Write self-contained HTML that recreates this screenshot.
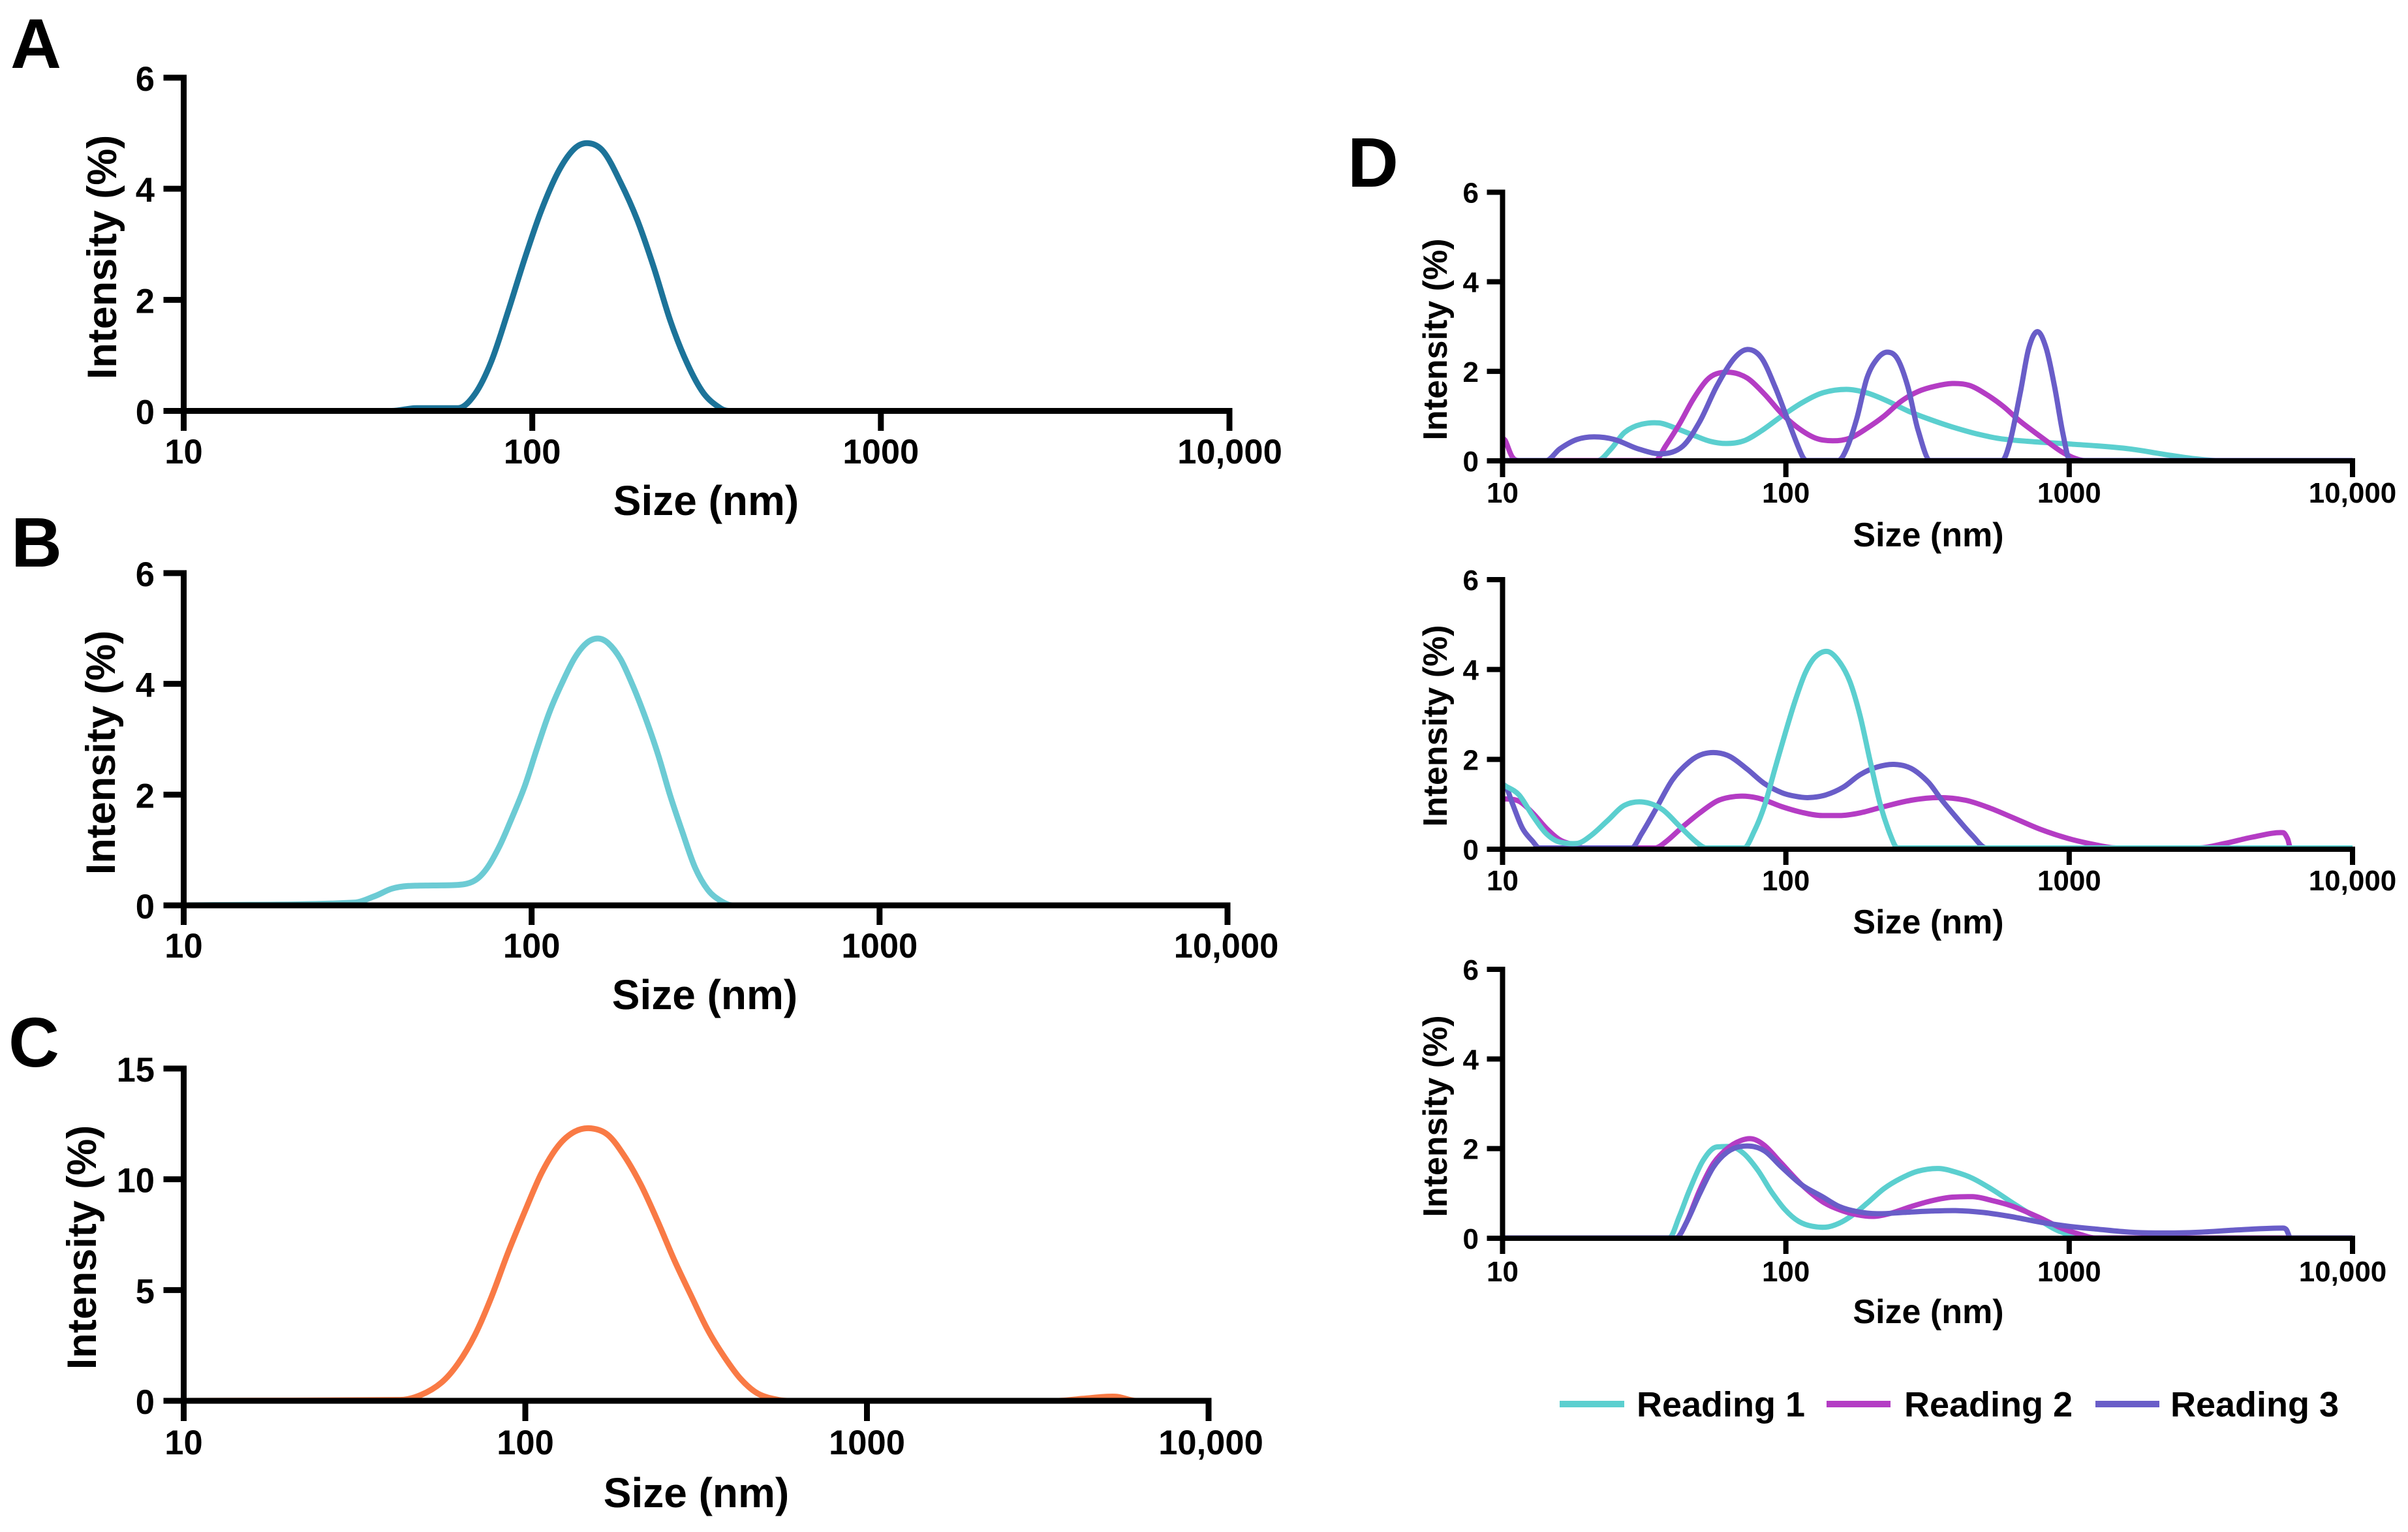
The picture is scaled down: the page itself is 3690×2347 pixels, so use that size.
<!DOCTYPE html>
<html lang="en">
<head>
<meta charset="utf-8">
<title>Size distribution intensity charts</title>
<style>
html,body{margin:0;padding:0;background:#fff;}
svg{display:block;font-family:"Liberation Sans",Arial,sans-serif;font-weight:bold;fill:#000;}
.big-label{font-size:64px;}
.big-y-label{font-size:63px;}
.d-x-label{font-size:52px;}
.d-y-label{font-size:52px;}
.panel-letter{font-size:108px;}
.legend-text{font-size:54px;}
</style>
</head>
<body>
<svg id="figure" xmlns="http://www.w3.org/2000/svg" width="3690" height="2347" viewBox="0 0 3690 2347">
  <rect x="0" y="0" width="3690" height="2347" fill="#ffffff"/>
  <text class="panel-letter" x="16" y="104">A</text>
  <text class="panel-letter" x="17" y="868">B</text>
  <text class="panel-letter" x="13" y="1634">C</text>
  <text class="panel-letter" x="2065" y="286">D</text>

  <g id="panel-a"></g>
  <g id="panel-b"></g>
  <g id="panel-c"></g>
  <g id="panel-d1"></g>
  <g id="panel-d2"></g>
  <g id="panel-d3"></g>

  <text class="big-label" x="1082" y="789" text-anchor="middle">Size (nm)</text>
  <text class="big-label" x="1080" y="1546" text-anchor="middle">Size (nm)</text>
  <text class="big-label" x="1067" y="2309" text-anchor="middle">Size (nm)</text>
  <text class="d-x-label" x="2955" y="837" text-anchor="middle">Size (nm)</text>
  <text class="d-x-label" x="2955" y="1430" text-anchor="middle">Size (nm)</text>
  <text class="d-x-label" x="2955" y="2027" text-anchor="middle">Size (nm)</text>

  <text class="big-y-label" text-anchor="middle" transform="translate(178 394) rotate(-90)">Intensity (%)</text>
  <text class="big-y-label" text-anchor="middle" transform="translate(176 1153) rotate(-90)">Intensity (%)</text>
  <text class="big-y-label" text-anchor="middle" transform="translate(147 1911) rotate(-90)">Intensity (%)</text>
  <text class="d-y-label" text-anchor="middle" transform="translate(2217 520) rotate(-90)">Intensity (%)</text>
  <text class="d-y-label" text-anchor="middle" transform="translate(2217 1112) rotate(-90)">Intensity (%)</text>
  <text class="d-y-label" text-anchor="middle" transform="translate(2217 1710) rotate(-90)">Intensity (%)</text>

  <g>
    <g>
      <rect x="2390" y="2146" width="99" height="10" fill="#5bcfcf"/>
      <text class="legend-text" x="2508" y="2170">Reading 1</text>
    </g>
    <g>
      <rect x="2799" y="2146" width="98" height="10" fill="#b43cc4"/>
      <text class="legend-text" x="2918" y="2170">Reading 2</text>
    </g>
    <g>
      <rect x="3211" y="2146" width="98" height="10" fill="#695dc8"/>
      <text class="legend-text" x="3326" y="2170">Reading 3</text>
    </g>
  </g>
</svg>
<script>
/* ---- tick labels ---- */
const xTickLabels = ["10", "100", "1000", "10,000"];
const xTickLogs = [1, 2, 3, 4];
const yTicksSmall = [0, 2, 4, 6];
const yTicksLarge = [0, 5, 10, 15];

/* ---- Panel A: size (nm) / intensity (%) ---- */
const aSizes = [10, 39.5, 46.6, 61.3, 68.4, 76.4, 85.3, 95.2, 106, 118.6, 132, 145, 160, 179, 200, 223, 249, 278, 310, 346, 366, 10000];
const aValues = [0, 0, 0.05, 0.05, 0.3, 0.9, 1.8, 2.75, 3.6, 4.3, 4.72, 4.82, 4.67, 4.12, 3.44, 2.59, 1.62, 0.86, 0.32, 0.05, 0, 0];

/* ---- Panel B ---- */
const bSizes = [10, 30.9, 35.5, 39.6, 44.2, 52.1, 61.5, 68.7, 74.6, 81, 87.9, 95.5, 103.7, 112.7, 122.4, 133, 144, 155, 165.6, 180, 195, 212, 231, 250, 272, 295, 321, 348, 378, 10000];
const bValues = [0, 0.05, 0.17, 0.3, 0.35, 0.36, 0.37, 0.45, 0.68, 1.08, 1.59, 2.15, 2.84, 3.5, 4.02, 4.47, 4.74, 4.82, 4.74, 4.45, 3.98, 3.4, 2.72, 1.99, 1.3, 0.68, 0.28, 0.09, 0, 0];

/* ---- Panel C ---- */
const cSizes = [10, 43, 49.4, 56.9, 63.6, 71.2, 79.6, 89, 99.6, 111.4, 124.7, 139.4, 156, 174.6, 195, 218, 244, 273, 305.6, 342, 383, 428, 479, 551, 599, 3604, 4266, 5334, 6138, 10000];
const cValues = [0, 0.04, 0.26, 0.83, 1.69, 2.97, 4.69, 6.69, 8.54, 10.26, 11.5, 12.15, 12.3, 12.0, 11.05, 9.75, 8.11, 6.35, 4.75, 3.2, 1.97, 0.97, 0.33, 0.04, 0, 0, 0.09, 0.19, 0, 0];

/* ---- Panel D top: log10(size nm) / intensity (%) ---- */
const d1Reading1Log = [1, 1.335, 1.383, 1.431, 1.491, 1.551, 1.612, 1.672, 1.732, 1.792, 1.852, 1.913, 1.985, 2.057, 2.129, 2.214, 2.286, 2.358, 2.43, 2.503, 2.587, 2.671, 2.755, 2.852, 2.972, 3.092, 3.213, 3.333, 3.43, 3.526, 4];
const d1Reading1Val = [0, 0, 0.26, 0.63, 0.81, 0.84, 0.72, 0.57, 0.43, 0.38, 0.44, 0.66, 0.99, 1.29, 1.51, 1.59, 1.51, 1.33, 1.11, 0.93, 0.75, 0.6, 0.49, 0.43, 0.38, 0.33, 0.26, 0.14, 0.05, 0, 0];
const d1Reading2Log = [1, 1.01, 1.034, 1.058, 1.539, 1.575, 1.624, 1.672, 1.72, 1.756, 1.804, 1.864, 1.925, 1.985, 2.045, 2.105, 2.165, 2.226, 2.286, 2.346, 2.406, 2.466, 2.527, 2.587, 2.647, 2.707, 2.767, 2.828, 2.9, 2.972, 3.02, 3.056, 4];
const d1Reading2Val = [0.5, 0.44, 0.08, 0, 0, 0.32, 0.81, 1.36, 1.79, 1.94, 1.97, 1.84, 1.48, 1.05, 0.72, 0.5, 0.44, 0.5, 0.72, 0.99, 1.32, 1.54, 1.66, 1.72, 1.68, 1.48, 1.21, 0.87, 0.53, 0.2, 0.05, 0, 0];
const d1Reading3Log = [1, 1.154, 1.202, 1.262, 1.323, 1.395, 1.479, 1.563, 1.636, 1.696, 1.756, 1.816, 1.864, 1.913, 1.961, 2.009, 2.057, 2.074, 2.185, 2.214, 2.25, 2.286, 2.322, 2.358, 2.394, 2.43, 2.466, 2.51, 2.763, 2.792, 2.828, 2.857, 2.888, 2.919, 2.948, 2.977, 3.003, 4];
const d1Reading3Val = [0, 0, 0.26, 0.47, 0.53, 0.47, 0.26, 0.15, 0.32, 0.87, 1.66, 2.27, 2.48, 2.3, 1.66, 0.87, 0.11, 0, 0, 0.26, 0.93, 1.84, 2.27, 2.42, 2.27, 1.66, 0.69, 0, 0, 0.44, 1.54, 2.5, 2.88, 2.5, 1.66, 0.63, 0, 0];

/* ---- Panel D middle ---- */
const d2Reading1Log = [1, 1.01, 1.058, 1.106, 1.154, 1.202, 1.262, 1.311, 1.371, 1.431, 1.498, 1.563, 1.624, 1.684, 1.72, 1.852, 1.889, 1.925, 1.961, 1.997, 2.033, 2.069, 2.105, 2.149, 2.189, 2.226, 2.262, 2.298, 2.334, 2.37, 2.394, 4];
const d2Reading1Val = [1.4, 1.38, 1.18, 0.72, 0.32, 0.13, 0.1, 0.27, 0.61, 0.95, 1.02, 0.86, 0.49, 0.13, 0, 0, 0.38, 0.95, 1.75, 2.54, 3.28, 3.9, 4.26, 4.37, 4.14, 3.7, 2.94, 1.92, 0.95, 0.27, 0, 0];
const d2Reading2Log = [1, 1.01, 1.058, 1.106, 1.154, 1.202, 1.25, 1.287, 1.539, 1.575, 1.636, 1.696, 1.756, 1.804, 1.857, 1.913, 1.985, 2.057, 2.129, 2.189, 2.262, 2.346, 2.442, 2.539, 2.635, 2.719, 2.803, 2.9, 2.996, 3.092, 3.165, 3.454, 3.55, 3.646, 3.755, 3.771, 3.781, 4];
const d2Reading2Val = [1.09, 1.09, 1.04, 0.78, 0.44, 0.18, 0.07, 0, 0, 0.13, 0.47, 0.78, 1.04, 1.13, 1.15, 1.09, 0.92, 0.79, 0.72, 0.72, 0.78, 0.92, 1.06, 1.12, 1.06, 0.89, 0.67, 0.41, 0.21, 0.07, 0, 0, 0.1, 0.24, 0.34, 0.2, 0, 0];
const d2Reading3Log = [1, 1.01, 1.034, 1.07, 1.106, 1.13, 1.455, 1.491, 1.539, 1.6, 1.66, 1.708, 1.756, 1.804, 1.864, 1.925, 1.985, 2.033, 2.081, 2.141, 2.202, 2.262, 2.322, 2.382, 2.442, 2.503, 2.551, 2.611, 2.659, 2.707, 4];
const d2Reading3Val = [1.4, 1.38, 1.0, 0.44, 0.15, 0, 0, 0.32, 0.84, 1.52, 1.92, 2.09, 2.12, 2.03, 1.75, 1.43, 1.23, 1.15, 1.12, 1.18, 1.35, 1.63, 1.8, 1.86, 1.77, 1.46, 1.06, 0.61, 0.27, 0, 0];

/* ---- Panel D bottom ---- */
const d3Reading1Log = [1, 1.588, 1.624, 1.66, 1.708, 1.756, 1.804, 1.852, 1.901, 1.949, 1.997, 2.045, 2.093, 2.141, 2.189, 2.238, 2.286, 2.346, 2.406, 2.466, 2.539, 2.599, 2.659, 2.731, 2.803, 2.876, 2.948, 3.008, 3.044, 4];
const d3Reading1Val = [0, 0, 0.48, 1.07, 1.73, 2.03, 2.04, 1.88, 1.51, 1.03, 0.63, 0.37, 0.26, 0.24, 0.33, 0.52, 0.77, 1.1, 1.33, 1.49, 1.55, 1.47, 1.33, 1.07, 0.77, 0.48, 0.2, 0.05, 0, 0];
const d3Reading2Log = [1, 1.612, 1.648, 1.696, 1.744, 1.792, 1.84, 1.881, 1.925, 1.985, 2.057, 2.129, 2.189, 2.25, 2.31, 2.37, 2.442, 2.515, 2.587, 2.659, 2.731, 2.803, 2.9, 2.972, 3.044, 3.092, 4];
const d3Reading2Val = [0, 0, 0.33, 1.07, 1.66, 1.99, 2.17, 2.21, 2.06, 1.66, 1.18, 0.81, 0.63, 0.52, 0.48, 0.55, 0.7, 0.83, 0.91, 0.92, 0.83, 0.7, 0.44, 0.22, 0.07, 0, 0];
const d3Reading3Log = [1, 1.612, 1.648, 1.696, 1.744, 1.792, 1.84, 1.871, 1.925, 1.985, 2.057, 2.129, 2.189, 2.25, 2.322, 2.418, 2.515, 2.599, 2.695, 2.791, 2.9, 2.996, 3.092, 3.213, 3.333, 3.454, 3.598, 3.755, 3.767, 3.781, 4];
const d3Reading3Val = [0, 0, 0.33, 0.99, 1.58, 1.91, 2.04, 2.05, 1.94, 1.58, 1.18, 0.92, 0.7, 0.59, 0.54, 0.57, 0.6, 0.61, 0.57, 0.48, 0.35, 0.26, 0.2, 0.13, 0.11, 0.125, 0.18, 0.22, 0.18, 0, 0];

const SVGNS = 'http://www.w3.org/2000/svg';

function makeScales(g) {
  return {
    x: function (logSize) { return g.x0 + (logSize - 1) / 3 * (g.x1 - g.x0); },
    y: function (value) { return g.y0 - g.zeroLift - value / g.yMax * (g.y0 - g.yTop); }
  };
}

/* Smooth cubic through the points: chord-weighted tangents, limited to avoid
   overshoot, flat where a curve leaves or returns to a zero-valued stretch. */
function smoothPath(px, py, yFloor) {
  const n = px.length;
  const slope = [];
  const tan = [];
  for (let i = 0; i < n - 1; i++) slope.push((py[i + 1] - py[i]) / (px[i + 1] - px[i] || 1));
  tan.push(slope[0]);
  for (let i = 1; i < n - 1; i++) {
    const s0 = slope[i - 1];
    const s1 = slope[i];
    const h0 = px[i] - px[i - 1];
    const h1 = px[i + 1] - px[i];
    let t = (s0 * h0 + s1 * h1) / (h0 + h1);
    if (s0 === 0 || s1 === 0) {
      t = 0;
    } else if (s0 * s1 > 0) {
      const limit = 3 * Math.min(Math.abs(s0), Math.abs(s1));
      if (Math.abs(t) > limit) t = Math.sign(t) * limit;
    } else {
      const limit = Math.min(Math.abs(s0), Math.abs(s1));
      if (Math.abs(t) > limit) t = Math.sign(t) * limit;
    }
    tan.push(t);
  }
  tan.push(slope[n - 2]);
  let d = 'M' + px[0].toFixed(1) + ' ' + py[0].toFixed(1);
  for (let i = 0; i < n - 1; i++) {
    const h = (px[i + 1] - px[i]) / 3;
    const c1y = Math.min(py[i] + h * tan[i], yFloor);
    const c2y = Math.min(py[i + 1] - h * tan[i + 1], yFloor);
    d += 'C' + (px[i] + h).toFixed(1) + ' ' + c1y.toFixed(1) + ' ' +
      (px[i + 1] - h).toFixed(1) + ' ' + c2y.toFixed(1) + ' ' +
      px[i + 1].toFixed(1) + ' ' + py[i + 1].toFixed(1);
  }
  return d;
}

function drawSeries(parent, g, scales, name, color, logs, values) {
  const el = document.createElementNS(SVGNS, 'path');
  
  
  el.setAttribute('d', smoothPath(logs.map(scales.x), values.map(scales.y), scales.y(0)));
  el.setAttribute('fill', 'none');
  el.setAttribute('stroke', color);
  el.setAttribute('stroke-width', g.lineWidth);
  el.setAttribute('stroke-linejoin', 'round');
  parent.appendChild(el);
}

function drawLine(parent, name, x1, y1, x2, y2, width) {
  const el = document.createElementNS(SVGNS, 'line');
  
  
  el.setAttribute('x1', x1);
  el.setAttribute('y1', y1);
  el.setAttribute('x2', x2);
  el.setAttribute('y2', y2);
  el.setAttribute('stroke', '#000');
  el.setAttribute('stroke-width', width);
  parent.appendChild(el);
}

function drawLabel(parent, name, x, y, anchor, size, content) {
  const el = document.createElementNS(SVGNS, 'text');
  
  
  el.setAttribute('x', x);
  el.setAttribute('y', y);
  el.setAttribute('text-anchor', anchor);
  el.setAttribute('font-size', size);
  el.textContent = content;
  parent.appendChild(el);
}

function drawAxes(parent, g, yTicks) {
  const xAxis = { x: function (l) { return g.x0 + (l - 1) / 3 * (g.x1 - g.x0); } };
  const half = g.axisWidth / 2;
  drawLine(parent, 'y-axis-line', g.x0, g.yTop - half, g.x0, g.tickBottom, g.axisWidth);
  drawLine(parent, 'x-axis-line', g.x0 - g.tickLen, g.y0, g.x1 + half, g.y0, g.axisWidth);
  yTicks.forEach(function (t) {
    const y = g.y0 - t / g.yMax * (g.y0 - g.yTop);
    if (t !== 0) drawLine(parent, 'y-tick', g.x0 - g.tickLen, y, g.x0, y, g.axisWidth);
    drawLabel(parent, 'y-tick-label', g.yLabelX, y + g.labelDrop, 'end', g.tickSize, String(t));
  });
  xTickLogs.forEach(function (l, i) {
    const x = xAxis.x(l);
    if (i > 0) drawLine(parent, 'x-tick', x, g.y0, x, g.tickBottom, g.axisWidth);
    const shift = i === 3 ? g.lastLabelShift : 0;
    drawLabel(parent, 'x-tick-label', x + shift, g.xLabelY, 'middle', g.tickSize, xTickLabels[i]);
  });
}

function renderPanel(id, g, yTicks, series) {
  const parent = document.getElementById(id);
  const scales = makeScales(g);
  series.forEach(function (s) {
    drawSeries(parent, g, scales, s.name, s.color, s.logs, s.values);
  });
  drawAxes(parent, g, yTicks);
}

const colorA = '#1c7399';
const colorB = '#6ccbd4';
const colorC = '#f97a45';
const colorR1 = '#5bcfcf';
const colorR2 = '#b43cc4';
const colorR3 = '#695dc8';

renderPanel('panel-a',
  { x0: 281.5, x1: 1884, yTop: 119, y0: 629.5, yMax: 6, tickBottom: 660, tickLen: 31, axisWidth: 9, lineWidth: 9, zeroLift: 0, tickSize: 52.5, labelDrop: 20, yLabelX: 237, xLabelY: 710, lastLabelShift: 0.5 },
  yTicksSmall,
  [{ name: 'series-a-curve', color: colorA, logs: aSizes.map(Math.log10), values: aValues }]);

renderPanel('panel-b',
  { x0: 281.5, x1: 1881, yTop: 878, y0: 1387, yMax: 6, tickBottom: 1417, tickLen: 31, axisWidth: 9, lineWidth: 9, zeroLift: 0, tickSize: 52.5, labelDrop: 20, yLabelX: 237, xLabelY: 1467, lastLabelShift: -2 },
  yTicksSmall,
  [{ name: 'series-b-curve', color: colorB, logs: bSizes.map(Math.log10), values: bValues }]);

renderPanel('panel-c',
  { x0: 281.5, x1: 1852, yTop: 1637, y0: 2146, yMax: 15, tickBottom: 2177, tickLen: 31, axisWidth: 9, lineWidth: 9, zeroLift: 0, tickSize: 52.5, labelDrop: 20, yLabelX: 237, xLabelY: 2228, lastLabelShift: 3.5 },
  yTicksLarge,
  [{ name: 'series-c-curve', color: colorC, logs: cSizes.map(Math.log10), values: cValues }]);

renderPanel('panel-d1',
  { x0: 2302.5, x1: 3605, yTop: 294.5, y0: 706, yMax: 6, tickBottom: 731, tickLen: 24, axisWidth: 8, lineWidth: 8, zeroLift: 0.5, tickSize: 44, labelDrop: 16, yLabelX: 2266, xLabelY: 770, lastLabelShift: 0 },
  yTicksSmall,
  [
    { name: 'series-d-top-reading-1', color: colorR1, logs: d1Reading1Log, values: d1Reading1Val },
    { name: 'series-d-top-reading-2', color: colorR2, logs: d1Reading2Log, values: d1Reading2Val },
    { name: 'series-d-top-reading-3', color: colorR3, logs: d1Reading3Log, values: d1Reading3Val }
  ]);

renderPanel('panel-d2',
  { x0: 2302.5, x1: 3605, yTop: 888, y0: 1301, yMax: 6, tickBottom: 1325, tickLen: 24, axisWidth: 8, lineWidth: 8, zeroLift: 2, tickSize: 44, labelDrop: 16, yLabelX: 2266, xLabelY: 1364, lastLabelShift: 0 },
  yTicksSmall,
  [
    { name: 'series-d-middle-reading-2', color: colorR2, logs: d2Reading2Log, values: d2Reading2Val },
    { name: 'series-d-middle-reading-3', color: colorR3, logs: d2Reading3Log, values: d2Reading3Val },
    { name: 'series-d-middle-reading-1', color: colorR1, logs: d2Reading1Log, values: d2Reading1Val }
  ]);

renderPanel('panel-d3',
  { x0: 2302.5, x1: 3605, yTop: 1485, y0: 1897, yMax: 6, tickBottom: 1921, tickLen: 24, axisWidth: 8, lineWidth: 8, zeroLift: 0.5, tickSize: 44, labelDrop: 16, yLabelX: 2266, xLabelY: 1963, lastLabelShift: -15 },
  yTicksSmall,
  [
    { name: 'series-d-bottom-reading-1', color: colorR1, logs: d3Reading1Log, values: d3Reading1Val },
    { name: 'series-d-bottom-reading-2', color: colorR2, logs: d3Reading2Log, values: d3Reading2Val },
    { name: 'series-d-bottom-reading-3', color: colorR3, logs: d3Reading3Log, values: d3Reading3Val }
  ]);
</script>
</body>
</html>
